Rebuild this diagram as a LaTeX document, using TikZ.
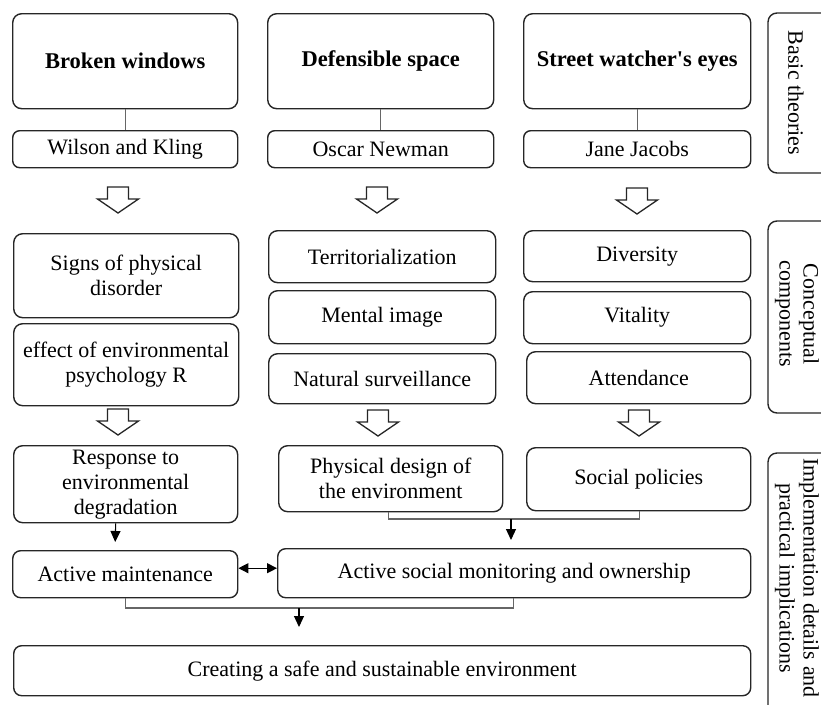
\documentclass[tikz,border=0pt]{standalone}
\usepackage{fontspec}
\setmainfont{Liberation Serif}
\usetikzlibrary{arrows.meta}
\begin{document}
\begin{tikzpicture}[x=1pt,y=-1pt,
  box/.style={draw=black!85, line width=1.4pt, rounded corners=9pt, align=center,
    inner sep=0pt, anchor=north west, font=\fontsize{22}{25}\selectfont},
  sidebox/.style={draw=black!85, line width=1.4pt, rounded corners=9pt},
  sidetext/.style={rotate=-90, align=center, inner sep=0pt, font=\fontsize{22}{24}\selectfont},
  conn/.style={draw=black!60, line width=1.1pt},
  arr/.style={draw=black, line width=1.1pt, -{Triangle[length=11pt,width=10pt]}},
  arrboth/.style={draw=black, line width=1.2pt, {Triangle[length=10pt,width=10pt]}-{Triangle[length=10pt,width=10pt]}},
  downarrow/.pic={\draw[black!85, line width=1.3pt, line join=miter]
    (-10.5,0) -- (10.5,0) -- (10.5,12) -- (20.5,12) -- (0,26) -- (-20.5,12) -- (-10.5,12) -- cycle;}
]
\useasboundingbox (0,0) rectangle (821,704);
\fill[white] (0,0) rectangle (821,704);
\clip (0,0) rectangle (821,704);

% Basic theories
\node[box, minimum width=225pt, minimum height=95pt, font=\fontsize{22.5}{25}\selectfont\bfseries] (bw) at (12,13) {Broken windows};
\node[box, minimum width=226pt, minimum height=95pt, font=\fontsize{22.5}{25}\selectfont\bfseries] (ds) at (267,13) {Defensible space};
\node[box, minimum width=227pt, minimum height=95pt, font=\fontsize{22.5}{25}\selectfont\bfseries] (sw) at (523,13) {Street watcher\textquotesingle s eyes};

\node[box, rounded corners=7pt, minimum width=225pt, minimum height=37pt] (wk) at (12,130) {Wilson and Kling};
\node[box, rounded corners=7pt, minimum width=226pt, minimum height=37pt] (on) at (267,130) {Oscar Newman};
\node[box, rounded corners=7pt, minimum width=227pt, minimum height=37pt] (jj) at (523,130) {Jane Jacobs};

\draw[conn] (bw.south) -- (wk.north);
\draw[conn] (ds.south) -- (on.north);
\draw[conn] (sw.south) -- (jj.north);

\pic at (118,187) {downarrow};
\pic at (377,187) {downarrow};
\pic at (637,188) {downarrow};

% Conceptual components
\node[box, minimum width=225pt, minimum height=84pt] (sp) at (13,233) {Signs of physical\\disorder};
\node[box, minimum width=225pt, minimum height=82pt] (ep) at (13,323) {effect of environmental\\psychology R};

\node[box, minimum width=227pt, minimum height=52pt] (ter) at (268,230) {Territorialization};
\node[box, minimum width=227pt, minimum height=53pt] (mi) at (268,290) {Mental image};
\node[box, minimum width=227pt, minimum height=50pt] (ns) at (268,353) {Natural surveillance};

\node[box, minimum width=227pt, minimum height=51pt] (dv) at (523,230) {Diversity};
\node[box, minimum width=227pt, minimum height=52pt] (vt) at (523,291) {Vitality};
\node[box, minimum width=224pt, minimum height=52pt] (at) at (526,351) {Attendance};

\pic at (118,409) {downarrow};
\pic at (378,410) {downarrow};
\pic at (639,410) {downarrow};

% Implementation
\node[box, minimum width=224pt, minimum height=77pt] (rs) at (13,445) {Response to\\environmental\\degradation};
\node[box, minimum width=224pt, minimum height=66pt] (pd) at (278,445) {Physical design of\\the environment};
\node[box, minimum width=224pt, minimum height=63pt] (spl) at (526,447) {Social policies};

\node[box, rounded corners=8pt, minimum width=225pt, minimum height=47pt] (am) at (12,550) {Active maintenance};
\node[box, rounded corners=8pt, minimum width=473pt, minimum height=49pt] (asm) at (277,548) {Active social monitoring and ownership};

\node[box, rounded corners=8pt, minimum width=737pt, minimum height=50pt] (cs) at (13,645) {Creating a safe and sustainable environment};

\coordinate (j1) at (511,519);
\coordinate (j2) at (299,608);

\draw[arr] ([xshift=-10pt]rs.south) -- ([xshift=-10pt,yshift=8pt]am.north);
\draw[conn] ([xshift=-2pt]pd.south) |- (j1) -| ([xshift=1pt]spl.south);
\draw[arr] (j1) -- ([yshift=8pt]asm.north -| j1);
\draw[arrboth] ([yshift=6pt]am.east) -- ([yshift=6pt]am.east -| asm.west);
\draw[conn] ([xshift=0.5pt]am.south) |- (j2) -| ([xshift=-0.5pt]asm.south);
\draw[arr] (j2) -- ([yshift=18pt]cs.north -| j2);

% Side labels
\draw[sidebox] (768,13) rectangle (840,173);
\node[sidetext] (lb1) at (796,93) {Basic theories};
\draw[sidebox] (768,221) rectangle (840,413);
\node[sidetext] (lb2) at (797,314) {Conceptual\\components};
\draw[sidebox] (768,453) rectangle (840,730);
\node[sidetext] (lb3) at (797,578) {Implementation details and\\practical implications};
\end{tikzpicture}
\end{document}
